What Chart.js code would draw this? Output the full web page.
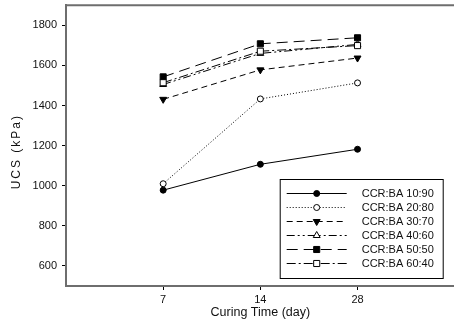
<!DOCTYPE html>
<html lang="en">
<head>
  <meta charset="UTF-8">
  <title>UCS vs Curing Time</title>
  <script src="https://cdn.jsdelivr.net/npm/chart.js"></script>
  <style>
    html, body { margin: 0; padding: 0; overflow: hidden; background: #fff; }
    canvas { display: block; }
  </style>
</head>
<body>
  <canvas id="ucsChart" width="460" height="323"></canvas>

  <script>
    // curing time categories (days) and y tick labels
    const curingDays = ['7', '14', '28'];
    const ucsTicks = [600, 800, 1000, 1200, 1400, 1600, 1800];

    // UCS (kPa)
    const mix1090 = [978, 1107, 1182];
    const mix2080 = [1010, 1433, 1513];
    const mix3070 = [1431, 1578, 1637];
    const mix4060 = [1505, 1660, 1705];
    const mix5050 = [1543, 1708, 1738];
    const mix6040 = [1514, 1671, 1699];

    const series = [
      { label: 'CCR:BA 10:90', values: mix1090, dash: [], style: 'circle', rot: 0, r: 3, fill: '#000' },
      { label: 'CCR:BA 20:80', values: mix2080, dash: [1, 2], style: 'circle', rot: 0, r: 3, fill: '#fff' },
      { label: 'CCR:BA 30:70', values: mix3070, dash: [6, 4], style: 'triangle', rot: 180, r: 4, fill: '#000' },
      { label: 'CCR:BA 40:60', values: mix4060, dash: [8, 3, 2, 3, 2, 3], style: 'triangle', rot: 0, r: 4, fill: '#fff' },
      { label: 'CCR:BA 50:50', values: mix5050, dash: [11, 6], style: 'rect', rot: 0, r: 4.3, fill: '#000' },
      { label: 'CCR:BA 60:40', values: mix6040, dash: [9, 3, 2, 3], style: 'rect', rot: 0, r: 4.3, fill: '#fff' }
    ];

    const axisGray = '#6e6e6e';
    const font = 'Liberation Sans, Arial, sans-serif';

    const datasets = series.map((s, i) => ({
      label: s.label,
      data: s.values.map((v, k) => ({ x: k, y: v })),
      borderColor: '#000',
      borderWidth: 1,
      borderDash: s.dash,
      pointStyle: s.style,
      pointRotation: s.rot,
      pointRadius: s.r,
      pointBackgroundColor: s.fill,
      pointBorderColor: '#000',
      pointBorderWidth: 1,
      tension: 0,
      order: -i
    }));

    // top frame line, y title and the boxed legend
    const extras = {
      id: 'extras',
      afterDraw(chart) {
        const ctx = chart.ctx;
        const a = chart.chartArea;
        ctx.save();
        ctx.strokeStyle = axisGray;
        ctx.lineWidth = 2;
        ctx.beginPath();
        ctx.moveTo(a.left - 1, a.top);
        ctx.lineTo(a.right + 10, a.top);
        ctx.stroke();

        // y title
        ctx.save();
        ctx.translate(17, (a.top + a.bottom) / 2 + 6);
        ctx.rotate(-Math.PI / 2);
        ctx.font = '12px ' + font;
        ctx.letterSpacing = '2px';
        ctx.fillStyle = '#111';
        ctx.textAlign = 'center';
        ctx.textBaseline = 'middle';
        ctx.fillText('UCS (kPa)', 0, 0);
        ctx.restore();

        // legend
        const bx = a.right - 175, by = a.bottom - 107, bw = 163, bh = 99;
        ctx.lineWidth = 1;
        ctx.strokeStyle = '#000';
        ctx.setLineDash([]);
        ctx.strokeRect(bx + 0.5, by + 0.5, bw, bh);
        ctx.font = '11px ' + font;
        ctx.textBaseline = 'middle';
        ctx.textAlign = 'left';
        datasets.forEach((ds, i) => {
          const y = by + 14.5 + i * 14;
          ctx.strokeStyle = '#000';
          ctx.lineWidth = 1;
          ctx.setLineDash(ds.borderDash);
          ctx.beginPath();
          ctx.moveTo(bx + 7, y);
          ctx.lineTo(bx + 67, y);
          ctx.stroke();
          ctx.setLineDash([]);
          ctx.fillStyle = ds.pointBackgroundColor;
          Chart.helpers.drawPoint(ctx, {
            pointStyle: ds.pointStyle,
            rotation: ds.pointRotation,
            radius: ds.pointRadius,
            borderWidth: 1
          }, bx + 37, y);
          ctx.fillStyle = '#111';
          ctx.fillText(ds.label, bx + 82, y + 0.5);
        });
        ctx.restore();
      }
    };

    new Chart(document.getElementById('ucsChart'), {
      type: 'line',
      data: { datasets },
      plugins: [extras],
      options: {
        responsive: false,
        animation: false,
        layout: { padding: { top: 4, right: 4, bottom: 0, left: 0 } },
        plugins: { legend: { display: false }, tooltip: { enabled: false } },
        scales: {
          x: {
            type: 'linear',
            min: -1,
            max: 3,
            afterBuildTicks: s => { s.ticks = curingDays.map((c, k) => ({ value: k })); },
            afterFit: s => { s.height = 37; s.paddingLeft = 0; s.paddingRight = 0; },
            ticks: {
              autoSkip: false,
              maxRotation: 0,
              padding: 3,
              color: '#111',
              font: { family: font, size: 11 },
              callback: v => curingDays[v]
            },
            grid: { drawOnChartArea: false, drawTicks: true, tickLength: 4, color: '#000' },
            border: { display: true, color: axisGray, width: 2 },
            title: {
              display: true,
              text: 'Curing Time (day)',
              color: '#111',
              font: { family: font, size: 12.5 },
              padding: { top: 0, bottom: 3 }
            }
          },
          y: {
            min: 500,
            max: 1900,
            afterBuildTicks: s => { s.ticks = ucsTicks.map(v => ({ value: v })); },
            afterFit: s => { s.width = 66; s.paddingTop = 0; s.paddingBottom = 0; },
            ticks: {
              padding: 5,
              color: '#111',
              font: { family: font, size: 11 },
              callback: v => String(v)
            },
            grid: { drawOnChartArea: false, drawTicks: true, tickLength: 4, color: '#000' },
            border: { display: true, color: axisGray, width: 2 }
          }
        }
      }
    });
  </script>
</body>
</html>
